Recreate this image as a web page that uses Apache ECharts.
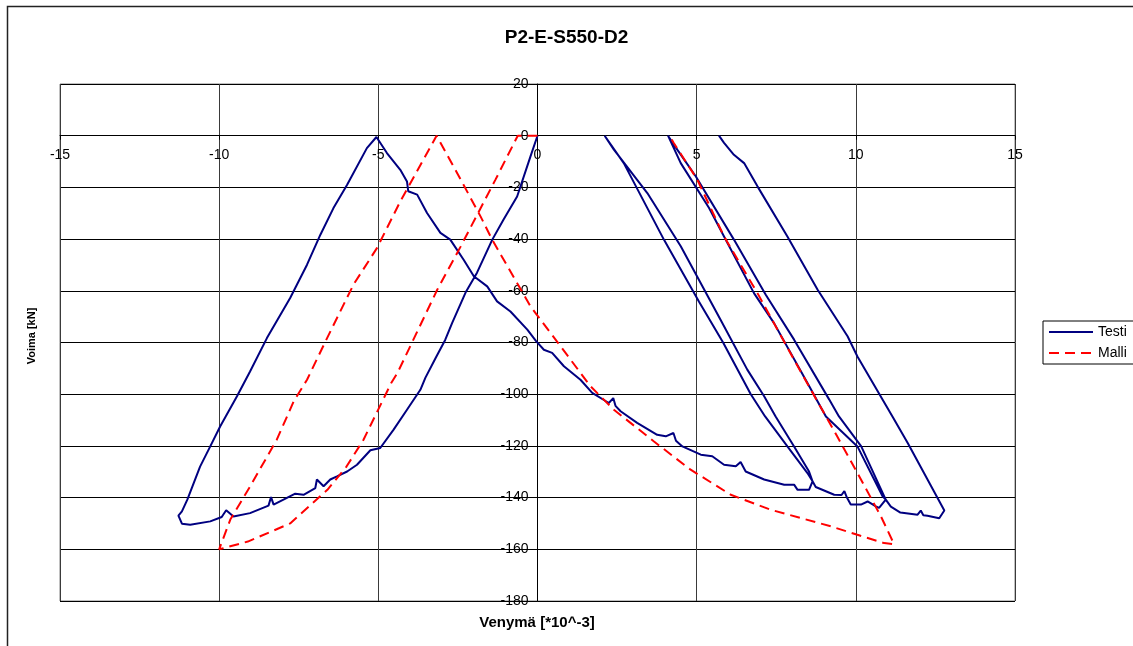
<!DOCTYPE html>
<html>
<head>
<meta charset="utf-8">
<script src="https://cdn.jsdelivr.net/npm/echarts@6/dist/echarts.min.js"></script>
<style>
html,body{margin:0;padding:0;background:#fff;}
#chart{width:1133px;height:646px;}
</style>
</head>
<body>
<div id="chart"></div>
<script>
// ---- data ----
var titleText = 'P2-E-S550-D2';
var xName = 'Venymä [*10^-3]';
var yName = 'Voima [kN]';
var seriesNames = ['Testi', 'Malli'];

// Testi (measured), path in drawing order
var testiX = [0, -0.22, -0.64, -1.07, -1.42, -1.9, -2.26, -2.68, -2.9, -3.2, -3.52, -3.68, -4.1, -4.52, -4.94, -5.25,
  -5.67, -5.98, -6.3, -6.51, -6.72, -6.93, -6.98, -7.35, -7.61, -7.98, -8.29, -8.37, -8.45, -9.03, -9.55, -9.78, -9.92, -10.28, -10.91, -11.17, -11.28,
  -11.17, -11.0, -10.6, -10.28, -9.97, -9.44, -9.03, -8.5, -7.77, -7.24, -6.82, -6.41, -5.98, -5.36, -5.06,
  -4.73, -4.31, -4.1, -4.06, -3.78, -3.47, -3.05, -2.74, -2.32, -2.0, -1.58, -1.27, -0.85, -0.32, -0.05, 0.2, 0.46, 0.83, 1.35, 1.72, 2.24, 2.38, 2.45, 2.61, 3.13, 3.76, 4.03, 4.27, 4.35, 4.55, 5.13, 5.49, 5.86, 6.23, 6.38, 6.54, 7.12, 7.75, 8.06, 8.17, 8.53, 8.64,
  8.53, 8.06, 7.48, 7.12, 6.59, 5.75, 4.5, 3.45, 2.4, 2.11,
  2.71, 3.97, 5.07, 5.83, 6.7, 7.15, 7.85, 8.48, 8.64,
  8.74, 9.32, 9.55, 9.64, 9.72, 9.84, 10.16, 10.37, 10.63, 10.73, 10.94,
  11.0, 10.17, 9.47, 9.16, 8.06, 7.17, 6.17, 4.97, 4.39, 4.1,
  4.5, 5.39, 5.86, 6.8, 7.43, 8.48, 9.06, 10.05, 10.84, 10.94,
  11.1, 11.4, 11.94, 12.04, 12.12, 12.25, 12.62, 12.78,
  11.63, 11.15, 10.05, 9.74, 8.8, 7.85, 6.91, 6.49, 6.17, 5.86, 5.7];
var testiY = [0, -8, -23.5, -32.5, -40.2, -53, -60.7, -72.4, -79, -86, -93.6, -98.3, -106, -113.7, -120.8, -121.7,
  -127.3, -129.9, -131.8, -133, -135.6, -133, -136.3, -138.9, -138.5, -140.8, -142.7, -139.8, -143.1, -146, -147.3, -144.9, -147.5, -149.2, -150.5, -150.1, -147,
  -145.3, -140.8, -128, -120.2, -112.5, -100.8, -91.2, -78.3, -62.8, -49.9, -38.3, -28, -19, -4.8, -0.5,
  -6.7, -13.2, -17.7, -21.5, -22.8, -29.9, -37.6, -40.2, -48, -54.4, -58.3, -64.1, -68, -75, -79.4, -82.8, -84, -89.2, -94.4, -99.5, -103.4, -101.5, -104.5, -106.6, -111.1, -115.7, -116.3, -115, -118, -120.2, -123.4, -124, -127.3, -127.9, -126.2, -129.9, -133, -135, -135, -137, -137, -133.7,
  -129.9, -120.2, -108.6, -100.8, -90.5, -71.2, -42.8, -22.2, -5.4, 0,
  -10.6, -40.2, -64.1, -80, -100, -108.6, -120.2, -130.5, -133.7,
  -135.9, -138.9, -139, -137.5, -140, -142.7, -142.7, -141.5, -143.4, -144, -140.8,
  -140.2, -120.2, -108.6, -102, -78.9, -61.5, -40.2, -15.7, -5.4, 0,
  -10.6, -28, -39, -60.9, -72.5, -95.7, -108.6, -120.2, -139.5, -140.8,
  -143.5, -145.8, -146.6, -145, -146.8, -147, -148, -145,
  -118.9, -108.6, -85.4, -77.6, -59.6, -39, -19.6, -10.6, -7.4, -2.8, 0];

// Malli (model), path in drawing order
var malliX = [0, -0.62, -1.32, -2.42, -3.15, -4.4, -4.6, -5.47, -6.0, -6.6, -7.77, -9.1, -10.0,
  -9.65, -9.03, -8.19, -7.66, -7.24, -6.61, -5.78, -5.04, -4.31, -3.17,
  -2.5, -1.79, -1.42, -0.22, 0.41, 1.67, 2.4, 3.66, 4.81, 6.07, 7.33, 8.27, 9.21, 10.05, 10.89, 11.2,
  10.79, 10.05, 9.4, 9.06, 8.06, 6.91, 5.86, 5.02, 4.27, 4.15];
var malliY = [0, 0, -17, -43, -59.6, -91.8, -95.8, -117.7, -128, -137, -150, -157, -160,
  -148.5, -135.7, -117.6, -102.8, -94.4, -78.3, -57.6, -43.4, -25.4, 0,
  -15, -31.2, -40.3, -66, -76.3, -97, -106, -118.3, -129.2, -138.9, -144.7, -147.9, -151.1, -154.4, -157.6, -158,
  -147.3, -130.5, -116, -108.6, -86.7, -60.9, -39, -17, -2.6, 0];

var xTicks = {min: -15, max: 15, interval: 5};
var yTicks = {min: -180, max: 20, interval: 20};

function zip(xs, ys) { return xs.map(function (x, i) { return [x, ys[i]]; }); }

var G = {left: 60, right: 118, top: 84, bottom: 45, w: 1133, h: 646};
var plotW = G.w - G.left - G.right, plotH = G.h - G.top - G.bottom;
// offsets that put each axis line at the other axis' zero
var xAxisOffset = -(plotH * (0 - yTicks.min) / (yTicks.max - yTicks.min));
var yAxisOffset = -(plotW * (0 - xTicks.min) / (xTicks.max - xTicks.min));

var chart = echarts.init(document.getElementById('chart'), null, {renderer: 'canvas'});
var font = "'Liberation Sans', Arial, sans-serif";
chart.setOption({
  animation: false,
  backgroundColor: '#fff',
  title: {
    text: titleText, left: 'center', top: 23,
    textStyle: {fontFamily: font, fontSize: 19, fontWeight: 'bold', color: '#000'}
  },
  grid: {left: G.left, right: G.right, top: G.top, bottom: G.bottom, show: true, borderColor: '#808080', borderWidth: 1, backgroundColor: '#fff'},
  legend: {
    data: seriesNames, orient: 'vertical', left: 1043, top: 321,
    itemWidth: 44, itemHeight: 14, itemGap: 7,
    padding: [4, 40, 4, 5],
    borderColor: '#000', borderWidth: 1, backgroundColor: '#fff',
    itemStyle: {opacity: 0, borderWidth: 0},
    textStyle: {fontFamily: font, fontSize: 14, color: '#000'}
  },
  xAxis: {
    type: 'value', min: xTicks.min, max: xTicks.max, interval: xTicks.interval,
    position: 'bottom', offset: xAxisOffset,
    axisLine: {onZero: false, lineStyle: {color: '#000', width: 1}},
    axisTick: {show: true, length: 4, lineStyle: {color: '#000'}},
    axisLabel: {margin: 12, fontFamily: font, fontSize: 14, color: '#000'},
    splitLine: {show: true, lineStyle: {color: '#3a3a3a', width: 1}}
  },
  yAxis: {
    type: 'value', min: yTicks.min, max: yTicks.max, interval: yTicks.interval,
    position: 'left', offset: yAxisOffset,
    axisLine: {onZero: false, lineStyle: {color: '#000', width: 1}},
    axisTick: {show: true, length: 4, lineStyle: {color: '#000'}},
    axisLabel: {margin: 9, fontFamily: font, fontSize: 14, color: '#000'},
    splitLine: {show: true, lineStyle: {color: '#000', width: 1}}
  },
  graphic: [
    {type: 'rect', silent: true, z: -1, shape: {x: 7.5, y: 6.5, width: 1140, height: 660},
     style: {fill: null, stroke: '#222', lineWidth: 1.5}},
    {type: 'text', x: 537, y: 623, style: {text: xName, fontFamily: font, fontSize: 15, fontWeight: 'bold', fill: '#000', align: 'center', verticalAlign: 'middle'}},
    {type: 'text', x: 32, y: 336, rotation: Math.PI / 2, style: {text: yName, fontFamily: font, fontSize: 11, fontWeight: 'bold', fill: '#000', align: 'center', verticalAlign: 'middle'}}
  ],
  series: [
    {name: seriesNames[0], type: 'line', data: zip(testiX, testiY), showSymbol: false, symbol: 'none',
     lineStyle: {color: '#000080', width: 2}, itemStyle: {color: '#000080'}, z: 3},
    {name: seriesNames[1], type: 'line', data: zip(malliX, malliY), showSymbol: false, symbol: 'none',
     lineStyle: {color: '#ff0000', width: 2, type: [10, 6]}, itemStyle: {color: '#ff0000'}, z: 4}
  ]
});
</script>
</body>
</html>
